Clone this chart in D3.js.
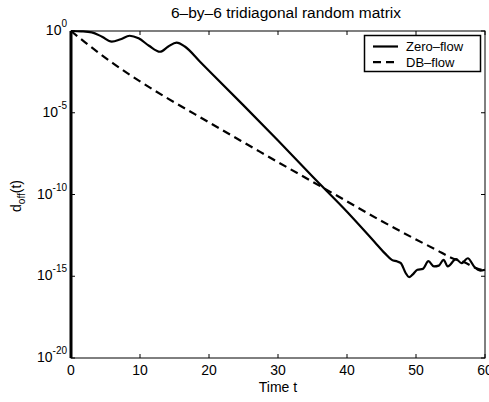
<!DOCTYPE html>
<html>
<head>
<meta charset="utf-8">
<script src="https://cdn.jsdelivr.net/npm/d3@7"></script>
<style>
  body { margin: 0; background: #fff; }
  text { font-family: "Liberation Sans", Arial, Helvetica, sans-serif; fill: #000; }
</style>
</head>
<body>
<svg id="chart" width="489" height="402"></svg>
<script>
// values, log10 of d_off(t)
const zeroT = [0, 1.5, 3, 4.5, 5.9, 7.2, 8.5, 9.8, 11.3, 12.9, 14.1, 15.3, 16.5, 18.7, 25, 30, 35, 40, 44, 45.5, 46.5, 47.3, 47.8, 48.5, 49.0, 49.5, 50.2, 51.0, 51.8, 52.6, 53.3, 54.0, 54.6, 55.8, 56.6, 57.5, 58.5, 59.3, 60];
const zeroLog = [0, -0.02, -0.08, -0.35, -0.65, -0.5, -0.29, -0.45, -0.9, -1.27, -0.95, -0.71, -0.95, -1.88, -4.55, -6.7, -8.9, -11.05, -12.9, -13.6, -14.0, -14.1, -14.2, -14.8, -15.05, -14.9, -14.6, -14.55, -14.08, -14.4, -14.35, -14.0, -14.4, -13.95, -14.2, -13.9, -14.45, -14.65, -14.6];

const dbT = [0, 2, 4, 6, 8, 10, 14, 18, 22, 26, 30, 35, 40, 45, 50, 53, 55, 57, 58.7, 60];
const dbLog = [0, -0.68, -1.33, -1.95, -2.53, -3.08, -4.12, -5.1, -6.08, -7.05, -8.02, -9.22, -10.42, -11.62, -12.75, -13.4, -13.85, -14.15, -14.5, -14.67];

const xTicks = [0, 10, 20, 30, 40, 50, 60];
const yTicks = [0, -5, -10, -15, -20];
const legendLabels = ['Zero\u2013flow', 'DB\u2013flow'];

const margin = { top: 31, right: 4, bottom: 44, left: 71 };
const width = 489, height = 402;
const svg = d3.select('#chart');

const x = d3.scaleLinear().domain([0, 60]).range([margin.left, width - margin.right]);
const y = d3.scaleLog().domain([1e-20, 1]).range([height - margin.bottom, margin.top]);

// frame
svg.append('rect')
  .attr('x', x(0)).attr('y', y(1))
  .attr('width', x(60) - x(0)).attr('height', y(1e-20) - y(1))
  .attr('fill', 'none').attr('stroke', '#000').attr('stroke-width', 1);

// ticks inward on all four sides
const tickLen = 4;
xTicks.forEach(t => {
  svg.append('line').attr('x1', x(t)).attr('x2', x(t))
    .attr('y1', y(1e-20)).attr('y2', y(1e-20) - tickLen).attr('stroke', '#000');
  svg.append('line').attr('x1', x(t)).attr('x2', x(t))
    .attr('y1', y(1)).attr('y2', y(1) + tickLen).attr('stroke', '#000');
  svg.append('text').attr('x', x(t)).attr('y', y(1e-20) + 17)
    .attr('text-anchor', 'middle').style('font-size', '14px').text(t);
});

yTicks.forEach(e => {
  const v = Math.pow(10, e);
  svg.append('line').attr('x1', x(0)).attr('x2', x(0) + tickLen)
    .attr('y1', y(v)).attr('y2', y(v)).attr('stroke', '#000');
  svg.append('line').attr('x1', x(60)).attr('x2', x(60) - tickLen)
    .attr('y1', y(v)).attr('y2', y(v)).attr('stroke', '#000');
  const lbl = svg.append('text').attr('x', x(0) - 4).attr('y', y(v) + 4)
    .attr('text-anchor', 'end').style('font-size', '14px');
  lbl.append('tspan').text('10');
  lbl.append('tspan').attr('dy', -8).style('font-size', '10px').text(e === 0 ? '0' : '-' + (-e));
});

// thick left spine as in the reference
svg.append('line').attr('x1', x(0)).attr('x2', x(0))
  .attr('y1', y(1)).attr('y2', y(1e-20))
  .attr('stroke', '#000').attr('stroke-width', 3);

const line = d3.line().x(d => x(d[0])).y(d => y(Math.pow(10, d[1]))).curve(d3.curveMonotoneX);

svg.append('path')
  .datum(zeroT.map((t, i) => [t, zeroLog[i]]))
  .attr('d', line).attr('fill', 'none').attr('stroke', '#000').attr('stroke-width', 2.2);

svg.append('path')
  .datum(dbT.map((t, i) => [t, dbLog[i]]))
  .attr('d', line).attr('fill', 'none').attr('stroke', '#000').attr('stroke-width', 2.2)
  .attr('stroke-dasharray', '8,5');

// title and axis labels
svg.append('text').attr('x', 286).attr('y', 18).attr('text-anchor', 'middle')
  .style('font-size', '15.5px').text('6\u2013by\u20136 tridiagonal random matrix');

svg.append('text').attr('x', 278).attr('y', 392).attr('text-anchor', 'middle')
  .style('font-size', '14px').text('Time t');

const yl = svg.append('text').attr('transform', 'translate(21,196) rotate(-90)')
  .attr('text-anchor', 'middle').style('font-size', '14px');
yl.append('tspan').text('d');
yl.append('tspan').attr('dy', 4).style('font-size', '10px').text('off');
yl.append('tspan').attr('dy', -4).text('(t)');

// legend
const lg = svg.append('g');
lg.append('rect').attr('x', 364.5).attr('y', 35.5).attr('width', 116).attr('height', 36)
  .attr('fill', '#fff').attr('stroke', '#000').attr('stroke-width', 1.5);
legendLabels.forEach((name, i) => {
  const ly = 46.5 + i * 15.7;
  lg.append('line').attr('x1', 373).attr('x2', 398).attr('y1', ly).attr('y2', ly)
    .attr('stroke', '#000').attr('stroke-width', 2.2)
    .attr('stroke-dasharray', i === 1 ? '8,5' : null);
  lg.append('text').attr('x', 406).attr('y', ly + 4.5).style('font-size', '13px').text(name);
});
</script>
</body>
</html>
